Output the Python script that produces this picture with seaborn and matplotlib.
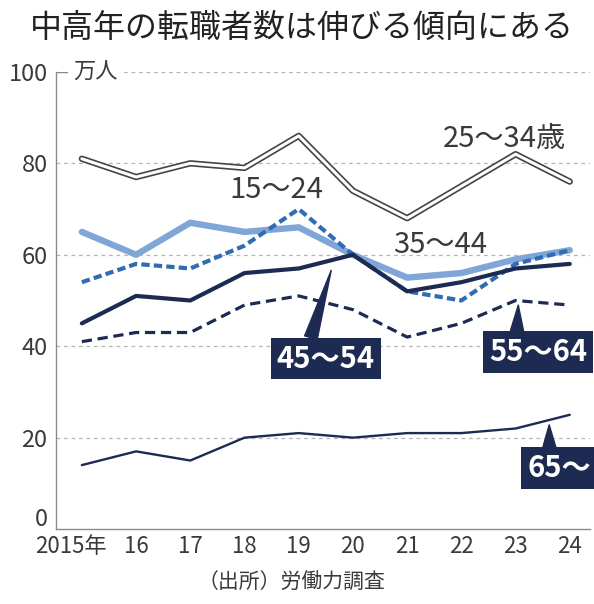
import matplotlib
matplotlib.use("Agg")
import matplotlib.pyplot as plt
import matplotlib.patheffects as pe
import matplotlib.transforms as mtransforms
import numpy as np
import pandas as pd
import seaborn as sns

# 転職者数（万人）, 労働力調査
years = [2015, 2016, 2017, 2018, 2019, 2020, 2021, 2022, 2023, 2024]
year_labels = ["2015年", "16", "17", "18", "19", "20", "21", "22", "23", "24"]

age_25_34 = [81, 77, 80, 79, 86, 74, 68, 75, 82, 76]
age_35_44 = [65, 60, 67, 65, 66, 60, 55, 56, 59, 61]
age_15_24 = [54, 58, 57, 62, 70, 60, 52, 50, 58, 61]
age_45_54 = [45, 51, 50, 56, 57, 60, 52, 54, 57, 58]
age_55_64 = [41, 43, 43, 49, 51, 48, 42, 45, 50, 49]
age_65 = [14, 17, 15, 20, 21, 20, 21, 21, 22, 25]

NAVY = "#1d2b52"
LIGHT = "#7fa6d6"
MID = "#2f6cb3"
GREY = "#8a8a8a"
TXT = "#3a3a3a"

sns.set_theme(style="white")
plt.rcParams["font.family"] = ["Noto Sans CJK JP", "DejaVu Sans"]

df = pd.DataFrame({"year": years, "25_34": age_25_34, "35_44": age_35_44,
                   "15_24": age_15_24, "45_54": age_45_54,
                   "55_64": age_55_64, "65": age_65})

fig = plt.figure(figsize=(5.94, 6.04), dpi=100)
ax = fig.add_axes([0.094, 0.124, 0.899, 0.757])

# 25~34: 白抜きの二重線
sns.lineplot(data=df, x="year", y="25_34", ax=ax, color="white", lw=2.2,
             path_effects=[pe.Stroke(linewidth=4.6, foreground="#444444"), pe.Normal()],
             zorder=3)
sns.lineplot(data=df, x="year", y="35_44", ax=ax, color=LIGHT, lw=4.6, zorder=4)
sns.lineplot(data=df, x="year", y="15_24", ax=ax, color=MID, lw=3.0,
             linestyle=(0, (2.0, 1.0)), zorder=5)
sns.lineplot(data=df, x="year", y="45_54", ax=ax, color=NAVY, lw=3.0, zorder=6)
sns.lineplot(data=df, x="year", y="55_64", ax=ax, color=NAVY, lw=2.3,
             linestyle=(0, (3.2, 1.8)), zorder=6)
sns.lineplot(data=df, x="year", y="65", ax=ax, color=NAVY, lw=1.7, zorder=6)

ax.set_xlim(2014.52, 2024.37)
ax.set_ylim(0, 100)
ax.set_xlabel("")
ax.set_ylabel("")

ax.set_yticks([0, 20, 40, 60, 80, 100])
ax.set_yticklabels(["0", "20", "40", "60", "80", "100"], fontsize=17, color=TXT)
ax.set_xticks(years)
ax.set_xticklabels(year_labels, fontsize=16, color=TXT)
ax.tick_params(axis="x", direction="in", length=8, width=0.9, color=GREY, pad=4)
ax.tick_params(axis="y", length=0, pad=6)

# "0" は少し上へ、"2015年" は数字部分を目盛りに合わせて左へ
lab0 = ax.get_yticklabels()[0]
lab0.set_transform(lab0.get_transform() + mtransforms.ScaledTranslation(0, 9 / 72, fig.dpi_scale_trans))
lab15 = ax.get_xticklabels()[0]
lab15.set_transform(lab15.get_transform() + mtransforms.ScaledTranslation(-8 / 72, 0, fig.dpi_scale_trans))

for y in [20, 40, 60, 80, 100]:
    ax.axhline(y, color="#b5b5b5", lw=0.9, ls=(0, (3, 3)), zorder=1)

for s in ["top", "right"]:
    ax.spines[s].set_visible(False)
for s in ["left", "bottom"]:
    ax.spines[s].set_color(GREY)
    ax.spines[s].set_linewidth(1.0)

ax.text(2014.84, 100, "万人", fontsize=16, color=TXT, ha="left", va="center",
        bbox=dict(boxstyle="square,pad=0.15", fc="white", ec="none"), zorder=2)
ax.plot([2014.52, 2014.72], [100, 100], color=GREY, lw=1.0, zorder=2.5)

# 系列ラベル
ax.text(2018.58, 74.2, "15～24", fontsize=21, color=TXT, ha="center", va="center")
ax.text(2022.79, 85.3, "25～34歳", fontsize=21, color=TXT, ha="center", va="center")
ax.text(2021.6, 62.2, "35～44", fontsize=21, color=TXT, ha="center", va="center")

box = dict(boxstyle="square,pad=0.2", fc=NAVY, ec="none")
ax.annotate("45～54", xy=(2019.6, 56.6), xytext=(2019.5, 37.3),
            fontsize=21, fontweight="bold", color="white", ha="center", va="center",
            bbox=box, zorder=8, annotation_clip=False,
            arrowprops=dict(arrowstyle="wedge,tail_width=0.45", color=NAVY,
                            relpos=(0.33, 1.0), shrinkA=0, shrinkB=0))
ax.annotate("55～64", xy=(2023.05, 49.0), xytext=(2023.42, 38.8),
            fontsize=21, fontweight="bold", color="white", ha="center", va="center",
            bbox=box, zorder=8, annotation_clip=False,
            arrowprops=dict(arrowstyle="wedge,tail_width=0.45", color=NAVY,
                            relpos=(0.28, 1.0), shrinkA=0, shrinkB=0))
ax.annotate("65～", xy=(2023.62, 22.8), xytext=(2023.8, 13.3),
            fontsize=21, fontweight="bold", color="white", ha="center", va="center",
            bbox=box, zorder=8, annotation_clip=False,
            arrowprops=dict(arrowstyle="wedge,tail_width=0.45", color=NAVY,
                            relpos=(0.35, 1.0), shrinkA=0, shrinkB=0))

fig.text(0.05, 0.953, "中高年の転職者数は伸びる傾向にある", fontsize=23, color="#222222",
         ha="left", va="center")
fig.text(0.49, 0.035, "（出所）労働力調査", fontsize=15, color=TXT, ha="center", va="center")

fig.savefig("out.png", dpi=100, facecolor="white")
